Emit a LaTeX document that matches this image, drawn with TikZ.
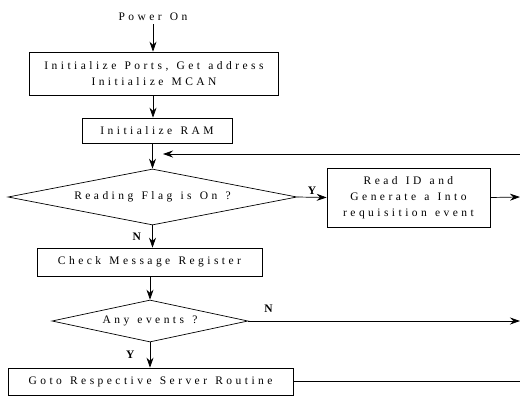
\documentclass[tikz,border=0pt]{standalone}
\usepackage{fontspec}
\setmainfont{Liberation Serif}[LetterSpace=30, WordSpace=1.3]
\usetikzlibrary{shapes.geometric,arrows.meta}
\begin{document}
\begin{tikzpicture}[x=1pt,y=-1pt,
  font=\fontsize{11.5}{16}\selectfont,
  box/.style={draw, line width=0.7pt, inner sep=0pt, align=center},
  dia/.style={draw, diamond, line width=0.7pt, inner sep=0pt},
  flow/.style={line width=0.7pt, -{Stealth[length=10pt,width=7pt]}},
  lab/.style={font=\fontsize{11.5}{12}\selectfont\bfseries}]
\useasboundingbox (0,0) rectangle (520,397);
\node (pwr) at (153,17) {Power On};
\node[box, minimum width=249pt, minimum height=43pt] (b1) at (154,73.5) {Initialize Ports, Get address\\Initialize MCAN};
\node[box, minimum width=150pt, minimum height=25pt] (b2) at (157,130.5) {Initialize RAM};
\node[dia, minimum width=289pt, minimum height=56pt, aspect=5.16] (d1) at (152.5,197) {Reading Flag is On ?};
\node[box, minimum width=163pt, minimum height=59pt] (rd) at (408.5,197.5) {Read ID and\\Generate a Into\\requisition event};
\node[box, minimum width=225pt, minimum height=28pt] (chk) at (149.5,262) {Check Message Register};
\node[dia, minimum width=196pt, minimum height=42pt, aspect=4.67] (d2) at (150,321) {Any events ?};
\node[box, minimum width=285pt, minimum height=27pt] (go) at (150.5,381.5) {Goto Respective Server Routine};
\coordinate (eR) at (520,197);
\coordinate (eN) at (520,321);
\coordinate (eG) at (520,381.5);
\coordinate (fbR) at (520,154);
\coordinate (fbL) at (163,154);
\draw[flow] (pwr.south) -- (pwr.south |- b1.north);
\draw[flow] (b1.south -| pwr) -- (b2.north -| pwr);
\draw[flow] (b2.south -| d1) -- (d1.north);
\draw[flow] (d1.south) -- (chk.north -| d1.south) node[lab, midway, left, xshift=-8pt] {N};
\draw[flow] (chk.south -| d2) -- (d2.north);
\draw[flow] (d2.south) -- (go.north -| d2.south) node[lab, midway, left, xshift=-12pt] {Y};
\draw[flow] (d1.east) -- (rd.west) node[lab, midway, above=-1pt] {Y};
\draw[flow] (rd.east) -- (eR);
\draw[flow] (d2.east) -- (eN) node[lab, pos=0.074, above=5pt] {N};
\draw[line width=0.7pt] (go.east) -- (eG);
\draw[flow] (fbR) -- (fbL);
\end{tikzpicture}
\end{document}
